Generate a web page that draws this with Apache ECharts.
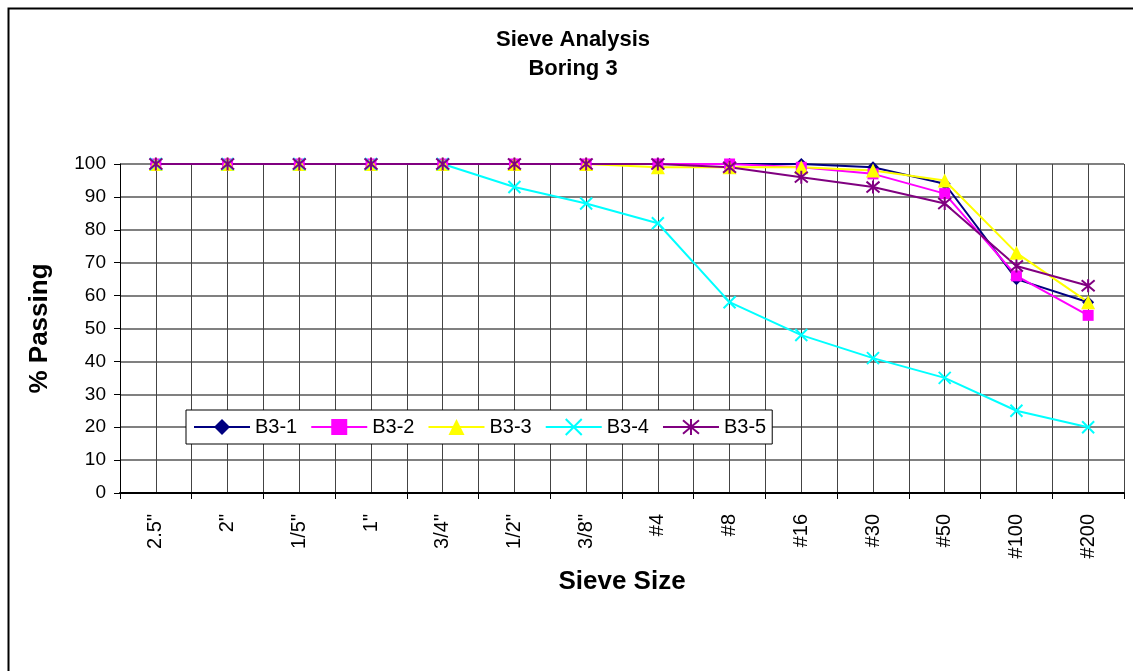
<!DOCTYPE html>
<html>
<head>
<meta charset="utf-8">
<title>Sieve Analysis - Boring 3</title>
<script src="https://cdn.jsdelivr.net/npm/echarts@6/dist/echarts.min.js"></script>
<style>
    html, body { margin: 0; padding: 0; background: #fff; }
    .chart { width: 1133px; height: 671px; }
</style>
</head>
<body>
<div class="chart"></div>
<script>
    // sieve sizes (x categories)
    var sieves = ['2.5"', '2"', '1/5"', '1"', '3/4"', '1/2"', '3/8"', '#4', '#8', '#16', '#30', '#50', '#100', '#200'];
    var yTicks = [0, 10, 20, 30, 40, 50, 60, 70, 80, 90, 100];

    // % passing for each sample
    var b31 = [100, 100, 100, 100, 100, 100, 100, 100, 100, 100, 99, 94, 65, 58];
    var b32 = [100, 100, 100, 100, 100, 100, 100, 100, 100, 99, 97, 91, 66, 54];
    var b33 = [100, 100, 100, 100, 100, 100, 100, 99, 99, 99, 98, 95, 73, 58];
    var b34 = [100, 100, 100, 100, 100, 93, 88, 82, 58, 48, 41, 35, 25, 20];
    var b35 = [100, 100, 100, 100, 100, 100, 100, 100, 99, 96, 93, 88, 69, 63];

    var font = "'Liberation Sans', Arial, Helvetica, sans-serif";
    var xMark = 'path://M0,0L10,10M10,0L0,10';
    var starMark = 'path://M0,0L10,10M10,0L0,10M5,-1L5,11';

    function mkSeries(name, data, color, symbol, size) {
        return {
            name: name,
            type: 'line',
            data: data,
            symbol: symbol,
            symbolSize: size,
            showSymbol: true,
            showAllSymbol: true,
            lineStyle: { color: color, width: 2 },
            itemStyle: { color: color, borderColor: color, borderWidth: (symbol.indexOf('path') === 0) ? 2 : 0 }
        };
    }

    var myChart = echarts.init(document.querySelector('.chart'));
    var option = {
        animation: false,
        backgroundColor: '#fff',
        textStyle: { fontFamily: font },
        title: {
            text: 'Sieve Analysis\nBoring 3',
            left: 573,
            top: 25,
            textAlign: 'center',
            padding: 0,
            textStyle: { fontSize: 22, fontWeight: 'bold', color: '#000', lineHeight: 29, fontFamily: font }
        },
        graphic: [{
            type: 'rect',
            left: 6, top: 6,
            shape: { width: 1140, height: 680 },
            style: { fill: null, stroke: '#000', lineWidth: 2 },
            silent: true
        }],
        legend: {
            data: ['B3-1', 'B3-2', 'B3-3', 'B3-4', 'B3-5'],
            left: 186,
            top: 410,
            padding: [7, 6, 7, 7],
            itemWidth: 56,
            itemHeight: 20,
            itemGap: 13,
            borderColor: '#000',
            borderWidth: 1,
            backgroundColor: '#fff',
            textStyle: { fontSize: 20, color: '#000', fontFamily: font }
        },
        grid: { left: 120, right: 9, top: 164, bottom: 178, outerBoundsMode: 'none' },
        xAxis: [{
            type: 'category',
            data: sieves,
            boundaryGap: true,
            name: 'Sieve Size',
            nameLocation: 'middle',
            nameGap: 76,
            nameTextStyle: { fontSize: 26, fontWeight: 'bold', color: '#000', fontFamily: font },
            axisLine: { onZero: false, lineStyle: { color: '#000', width: 2 } },
            axisTick: { show: true, length: 6, lineStyle: { color: '#000' } },
            axisLabel: { interval: 0, rotate: 90, margin: 21, fontSize: 20, color: '#000', fontFamily: font },
            splitLine: { show: false }
        }, {
            // helper axis for the vertical grid (boundaries and centres)
            type: 'value',
            min: -0.5,
            max: 13.5,
            interval: 0.5,
            position: 'bottom',
            axisLine: { show: false, onZero: false },
            axisTick: { show: false },
            axisLabel: { show: false },
            splitLine: { show: true, lineStyle: { color: '#444', width: 1 } }
        }],
        yAxis: {
            type: 'value',
            min: yTicks[0],
            max: yTicks[yTicks.length - 1],
            interval: 10,
            name: '% Passing',
            nameLocation: 'middle',
            nameGap: 67,
            nameTextStyle: { fontSize: 26, fontWeight: 'bold', color: '#000', fontFamily: font },
            axisLine: { show: true, onZero: false, lineStyle: { color: '#000', width: 1 } },
            axisTick: { show: true, length: 6, lineStyle: { color: '#000' } },
            axisLabel: { margin: 14, fontSize: 19, color: '#000', fontFamily: font },
            splitLine: { show: true, lineStyle: { color: '#808080', width: 2 } }
        },
        series: [
            mkSeries('B3-1', b31, '#000080', 'diamond', 12),
            mkSeries('B3-2', b32, '#FF00FF', 'rect', 11),
            mkSeries('B3-3', b33, '#FFFF00', 'triangle', 14),
            mkSeries('B3-4', b34, '#00FFFF', xMark, 12),
            mkSeries('B3-5', b35, '#800080', starMark, 13)
        ]
    };
    myChart.setOption(option);
</script>
</body>
</html>
